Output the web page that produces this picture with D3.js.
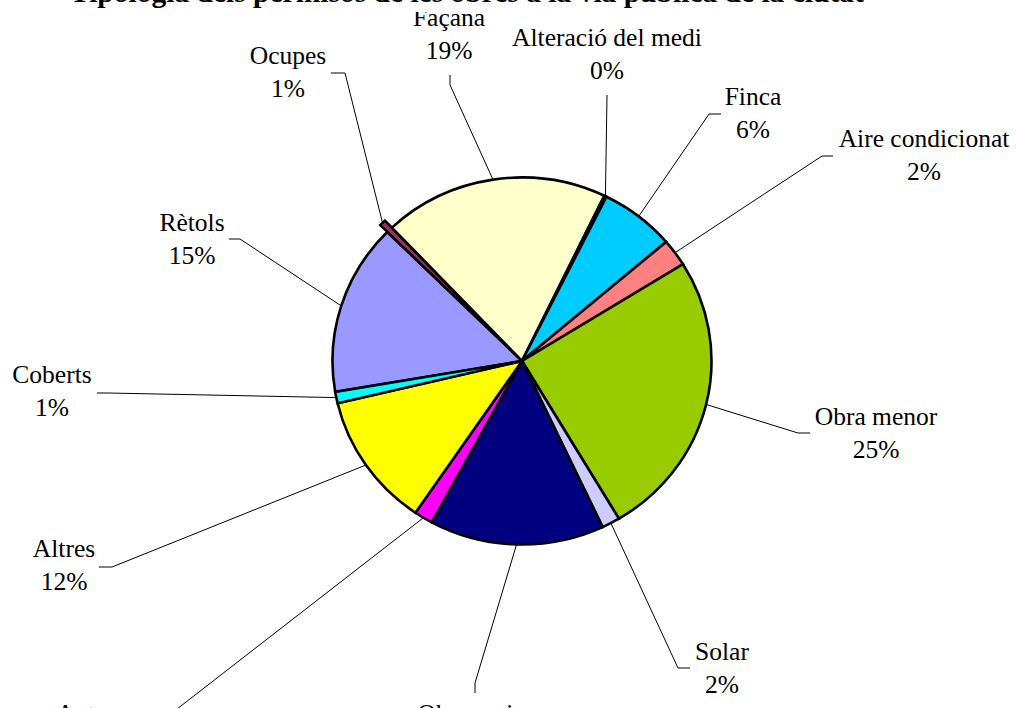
<!DOCTYPE html>
<html>
<head>
<meta charset="utf-8">
<script src="https://cdn.jsdelivr.net/npm/d3@7"></script>
<style>
  html, body { margin: 0; padding: 0; background: #ffffff; }
  svg { display: block; }
  text { font-family: "Liberation Serif", "Times New Roman", serif; fill: #000; }
</style>
</head>
<body>
<svg id="chart" width="1020" height="708"></svg>
<script>
// ---- data ----
const title = "Tipologia dels permisos de les obres a la via pública de la ciutat";
const categories = ["Rètols", "Ocupes", "Façana", "Alteració del medi", "Finca", "Aire condicionat",
                    "Obra menor", "Solar", "Obra major", "Antenes", "Altres", "Coberts"];
const values = [15.1, 0.55, 19.2, 0.2, 6.4, 2.4, 25.3, 1.55, 14.9, 1.6, 11.8, 1.0];
const colors = ["#9999FF", "#993366", "#FFFFCC", "#CCFFFF", "#00CCFF", "#FF8080",
                "#99CC00", "#CCCCFF", "#000080", "#FF00FF", "#FFFF00", "#00FFFF"];
const explodedSlices = ["Ocupes"];

// ---- layout (label placement: text centre x, first baseline, elbow, end of leader) ----
const labelLayout = {
  "Rètols":             {x: 192, y: 231, elbow: [240, 239], end: [229, 239]},
  "Ocupes":             {x: 288, y: 64,  elbow: [345, 73],  end: [331, 73]},
  "Façana":             {x: 449, y: 26,  elbow: [450, 85],  end: [450, 75]},
  "Alteració del medi": {x: 607, y: 46,  elbow: [607, 95],  end: [607, 95]},
  "Finca":              {x: 753, y: 105, elbow: [709, 114], end: [721, 114]},
  "Aire condicionat":   {x: 924, y: 147, elbow: [822, 156], end: [833, 156]},
  "Obra menor":         {x: 876, y: 425, elbow: [798, 433], end: [810, 433]},
  "Solar":              {x: 722, y: 660, elbow: [678, 668], end: [690, 668]},
  "Obra major":         {x: 476, y: 722, elbow: [475, 683], end: [475, 693]},
  "Antenes":            {x: 98,  y: 722, elbow: [168, 716], end: [156, 716]},
  "Altres":             {x: 64,  y: 557, elbow: [112, 567], end: [99, 567]},
  "Coberts":            {x: 52,  y: 383, elbow: [108, 393], end: [97, 393]}
};

const cx = 522, cy = 361, R = 189.5, ky = 183.5 / 189.5, explodeDist = 10;
const startDeg = 260.3;

const svg = d3.select("#chart");
svg.append("rect").attr("width", 1020).attr("height", 708).attr("fill", "#fff");

const total = d3.sum(values);
const pie = d3.pie().sort(null).value(d => d)
  .startAngle(startDeg * Math.PI / 180)
  .endAngle(startDeg * Math.PI / 180 + 2 * Math.PI);
const arcs = pie(values);
const arc = d3.arc().innerRadius(0).outerRadius(R);
const edgeArc = d3.arc().innerRadius(R).outerRadius(R);

function offsetFor(d, i) {
  if (!explodedSlices.includes(categories[i])) return [0, 0];
  const mid = (d.startAngle + d.endAngle) / 2;
  return [explodeDist * Math.sin(mid), -explodeDist * Math.cos(mid)];
}

const g = svg.append("g").attr("transform", `translate(${cx},${cy}) scale(1,${ky})`);

g.selectAll("path.slice")
  .data(arcs)
  .join("path")
  .attr("class", "slice")
  .attr("transform", (d, i) => { const o = offsetFor(d, i); return `translate(${o[0]},${o[1]})`; })
  .attr("d", arc)
  .attr("fill", (d, i) => colors[i])
  .attr("stroke", "#000")
  .attr("stroke-width", 2.6)
  .attr("vector-effect", "non-scaling-stroke");

// leader lines
const lines = svg.append("g");
arcs.forEach((d, i) => {
  const L = labelLayout[categories[i]];
  const c = edgeArc.centroid(d);
  const o = offsetFor(d, i);
  const p0 = [cx + c[0] + o[0], cy + (c[1] + o[1]) * ky];
  const pts = [p0, L.elbow, L.end];
  lines.append("path")
    .attr("d", d3.line()(pts))
    .attr("fill", "none")
    .attr("stroke", "#000")
    .attr("stroke-width", 1);
});

// labels
const labels = svg.append("g");
arcs.forEach((d, i) => {
  const L = labelLayout[categories[i]];
  const t = labels.append("text")
    .attr("x", L.x).attr("y", L.y)
    .attr("text-anchor", "middle")
    .attr("font-size", 25.5);
  t.append("tspan").attr("x", L.x).attr("y", L.y).text(categories[i]);
  t.append("tspan").attr("x", L.x).attr("y", L.y + 33)
    .text(Math.round(values[i] / total * 100) + "%");
});

// title box (white background, overlaps the top of the nearest label) and title
const titleG = svg.append("g");
const titleText = titleG.append("text")
  .attr("x", 70).attr("y", 2)
  .attr("font-size", 29.5).attr("font-weight", "bold")
  .text(title);
const bb = titleText.node().getBBox();
titleG.insert("rect", "text")
  .attr("x", bb.x - 4).attr("y", 0)
  .attr("width", bb.width + 8).attr("height", 12)
  .attr("fill", "#fff");
</script>
</body>
</html>
